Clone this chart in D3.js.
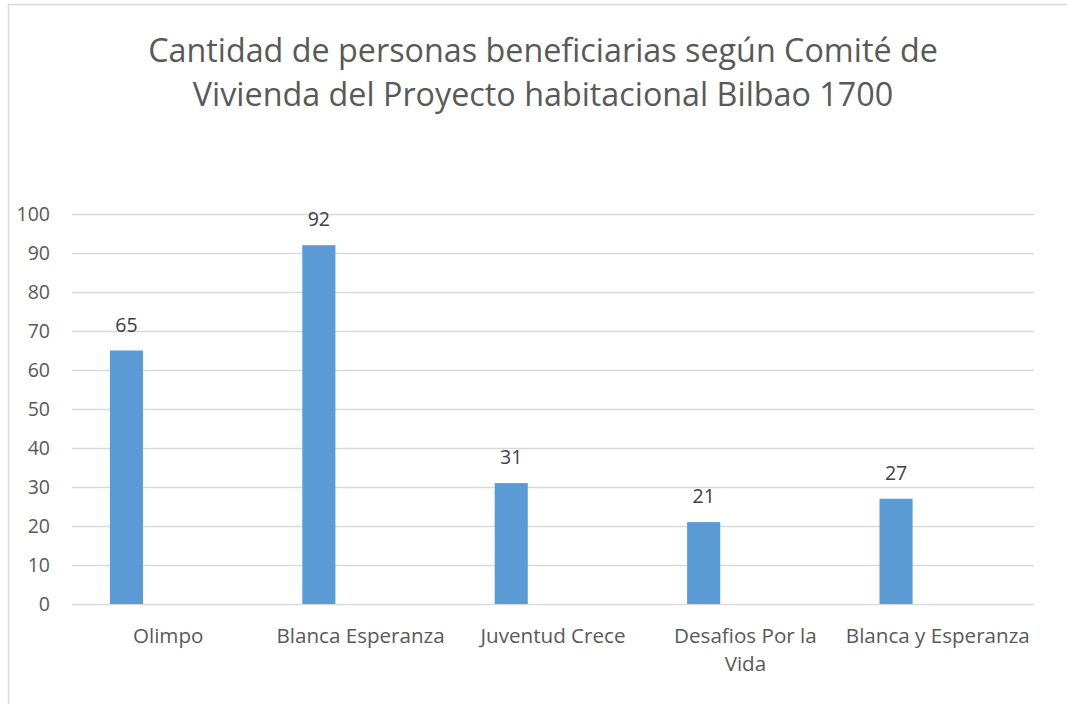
<!DOCTYPE html>
<html lang="es">
<head>
  <meta charset="UTF-8">
  <title>Comité de Vivienda - Bilbao 1700</title>
  <script src="https://cdnjs.cloudflare.com/ajax/libs/d3/7.8.5/d3.min.js"></script>
  <style>
    * { margin: 0; padding: 0; }
    html, body { background: #fff; overflow: hidden; }
    svg { display: block; font-family: "Open Sans", "Noto Sans", sans-serif; }
  </style>
</head>
<body>
<div id="chart"></div>
<script>
  // datos
  const titleLines = ['Cantidad de personas beneficiarias según Comité de', 'Vivienda del Proyecto habitacional Bilbao 1700']
  const comites = ['Olimpo', 'Blanca Esperanza', 'Juventud Crece', 'Desafios Por la Vida', 'Blanca y Esperanza']
  const beneficiarios = [65, 92, 31, 21, 27]
  const yTicks = [0, 10, 20, 30, 40, 50, 60, 70, 80, 90, 100]

  const W = 1067, H = 704
  const margin = {top: 214, right: 33, bottom: 100, left: 72}
  const textColor = '#595959'

  const svg = d3.select('#chart').append('svg')
    .attr('width', W)
    .attr('height', H)

  // borde del gráfico (solo arriba e izquierda visibles)
  svg.append('rect')
    .attr('x', 8.5).attr('y', 4.5)
    .attr('width', W + 20).attr('height', H + 20)
    .attr('fill', 'none')
    .attr('stroke', '#d9d9d9')
    .attr('stroke-width', 1.5)

  // título
  const tTexts = svg.append('g').selectAll('text').data(titleLines).join('text')
    .attr('x', 543)
    .attr('y', (d, i) => 62 + i * 44)
    .attr('text-anchor', 'middle')
    .attr('fill', textColor)
    .style('font-size', '30px')
    .text(d => d)
  // ajustar tamaño para que la primera línea mida ~790px
  const w0 = tTexts.node().getComputedTextLength()
  tTexts.style('font-size', (30 * 790 / w0).toFixed(2) + 'px')

  const x = d3.scaleBand()
    .domain(comites)
    .range([margin.left, W - margin.right])

  const y = d3.scaleLinear()
    .domain([0, 100])
    .range([H - margin.bottom, margin.top])

  // líneas de cuadrícula
  svg.append('g')
    .selectAll('line')
    .data(yTicks)
    .join('line')
    .attr('x1', margin.left)
    .attr('x2', W - margin.right)
    .attr('y1', d => Math.round(y(d)) + 0.5)
    .attr('y2', d => Math.round(y(d)) + 0.5)
    .attr('stroke', '#d9d9d9')
    .attr('stroke-width', 1.3)

  // eje Y
  const yAxis = svg.append('g')
    .attr('transform', `translate(${margin.left - 22},0)`)
    .call(d3.axisLeft(y).tickValues(yTicks).tickSize(0).tickPadding(0))
  yAxis.select('.domain').remove()
  yAxis.selectAll('text')
    .attr('fill', textColor)
    .attr('dy', '0.35em')
    .style('font-size', '19.5px')
    .style('font-family', '"Open Sans", sans-serif')

  // barras (primera serie del grupo; la segunda está vacía)
  const barOffset = x.bandwidth() * 0.197
  const barW = x.bandwidth() * 0.172
  svg.append('g')
    .selectAll('rect')
    .data(comites)
    .join('rect')
    .attr('x', d => x(d) + barOffset)
    .attr('width', barW)
    .attr('y', (d, i) => y(beneficiarios[i]))
    .attr('height', (d, i) => y(0) - y(beneficiarios[i]))
    .attr('fill', '#5b9bd5')

  // etiquetas de datos
  svg.append('g')
    .selectAll('text')
    .data(comites)
    .join('text')
    .attr('x', d => x(d) + barOffset + barW / 2)
    .attr('y', (d, i) => y(beneficiarios[i]) - 19)
    .attr('text-anchor', 'middle')
    .attr('fill', '#404040')
    .style('font-size', '19.5px')
    .text((d, i) => beneficiarios[i])

  // eje X: tamaño de letra para que "Blanca y Esperanza" mida ~184px
  const probe = svg.append('text').style('font-size', '20px').text(comites[4])
  const catSize = 20 * 184 / probe.node().getComputedTextLength()
  probe.remove()

  const xLabels = svg.append('g')
    .selectAll('text')
    .data(comites)
    .join('text')
    .attr('x', d => x(d) + x.bandwidth() / 2)
    .attr('y', 643)
    .attr('text-anchor', 'middle')
    .attr('fill', textColor)
    .style('font-size', catSize.toFixed(2) + 'px')

  const maxW = 188
  xLabels.each(function(d) {
    const t = d3.select(this)
    const words = d.split(' ')
    let line = []
    let tspan = t.append('tspan').attr('x', t.attr('x')).attr('dy', 0)
    words.forEach(w => {
      line.push(w)
      tspan.text(line.join(' '))
      if (tspan.node().getComputedTextLength() > maxW && line.length > 1) {
        line.pop()
        tspan.text(line.join(' '))
        line = [w]
        tspan = t.append('tspan').attr('x', t.attr('x')).attr('dy', 28).text(w)
      }
    })
  })
</script>
</body>
</html>
